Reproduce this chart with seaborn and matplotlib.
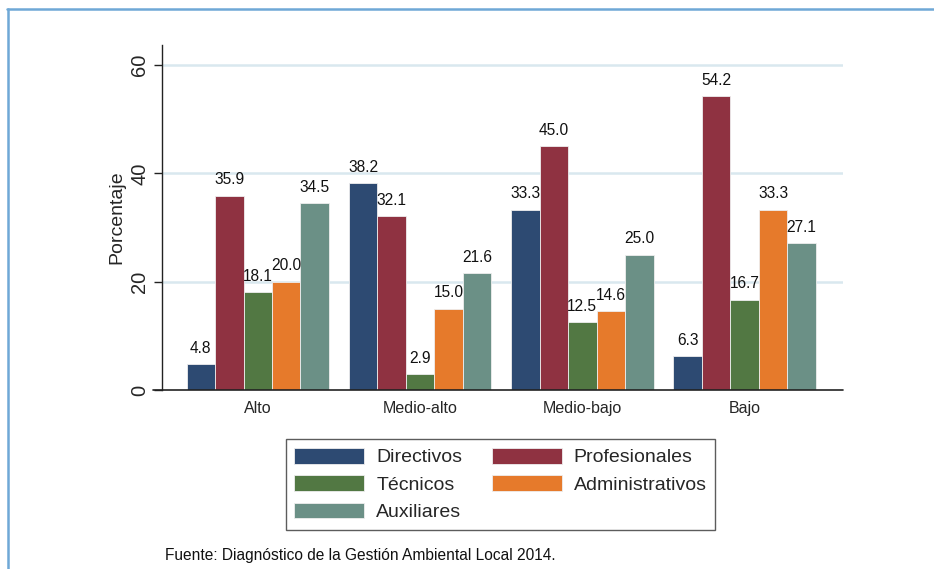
import matplotlib
matplotlib.use("Agg")
import matplotlib.pyplot as plt
from matplotlib.lines import Line2D
import seaborn as sns
import pandas as pd

# Data: percentage of staff by position and municipal level
niveles = ["Alto", "Medio-alto", "Medio-bajo", "Bajo"]
cargos = ["Directivos", "Profesionales", "Técnicos", "Administrativos", "Auxiliares"]
directivos = [4.8, 38.2, 33.3, 6.3]
profesionales = [35.9, 32.1, 45.0, 54.2]
tecnicos = [18.1, 2.9, 12.5, 16.7]
administrativos = [20.0, 15.0, 14.6, 33.3]
auxiliares = [34.5, 21.6, 25.0, 27.1]
yticks = [0, 20, 40, 60]
fuente = "Fuente: Diagnóstico de la Gestión Ambiental Local 2014."

colores = ["#2d4a72", "#8f3241", "#527843", "#e67a2b", "#6b9086"]

series = [directivos, profesionales, tecnicos, administrativos, auxiliares]
df = pd.DataFrame({
    "nivel": [n for s in series for n in niveles],
    "cargo": [c for c, s in zip(cargos, series) for _ in niveles],
    "pct": [v for s in series for v in s],
})

sns.set_theme(style="white")
plt.rcParams["font.family"] = ["Liberation Sans", "DejaVu Sans"]

fig = plt.figure(figsize=(9.34, 5.69), dpi=100)
fig.patch.set_facecolor("white")
ax = fig.add_axes([162 / 934, 1 - 390 / 569, (843 - 162) / 934, (390 - 45) / 569])

sns.barplot(data=df, x="nivel", y="pct", hue="cargo", order=niveles,
            hue_order=cargos, palette=colores, saturation=1, width=0.877,
            edgecolor="#eeeeee", linewidth=0.6, ax=ax, errorbar=None, zorder=3)

for cont in ax.containers:
    ax.bar_label(cont, fmt="%.1f", padding=6, fontsize=11.2, color="#111111")

ax.set_ylim(0, 63.7)
ax.set_xlim(-0.59, 3.606)
ax.set_yticks(yticks)
ax.set_yticklabels([str(t) for t in yticks], rotation=90, va="center", fontsize=14.5)
ax.tick_params(axis="y", left=True, length=6, width=1, color="#222222", pad=3)
ax.tick_params(axis="x", bottom=False, length=0, pad=8, labelsize=11.5)
ax.set_xlabel("")
ax.set_ylabel("Porcentaje", fontsize=14, labelpad=4)

for t in yticks[1:]:
    ax.axhline(t, color="#d9e8ef", lw=1.8, zorder=1)

for s in ["top", "right"]:
    ax.spines[s].set_visible(False)
ax.spines["left"].set_color("#222222")
ax.spines["left"].set_linewidth(1)
ax.spines["bottom"].set_visible(False)
ax.add_line(Line2D([-0.013, 1], [0, 0], transform=ax.transAxes, clip_on=False,
                   color="#222222", lw=1.2, zorder=4))

# Legend in row-major order across two columns
handles, labels = ax.get_legend_handles_labels()
ax.legend_.remove()
orden = [0, 2, 4, 1, 3]
leg = fig.legend([handles[i] for i in orden], [labels[i] for i in orden],
                 loc="center", bbox_to_anchor=(500.5 / 934, 1 - 484.5 / 569),
                 ncol=2, fontsize=14, frameon=True, fancybox=False,
                 edgecolor="#333333", handlelength=3.6, handleheight=0.88,
                 handletextpad=0.62, columnspacing=1.5, labelspacing=0.45,
                 borderpad=0.45)
leg.get_frame().set_linewidth(1)

fig.text(165 / 934, 1 - 560 / 569, fuente, fontsize=11.2, color="#111111",
         va="baseline", ha="left")

# Blue frame around the figure panel
fig.add_artist(Line2D([7 / 934, 1], [1 - 9 / 569, 1 - 9 / 569],
                      transform=fig.transFigure, color="#6fa8d6", lw=1.8))
fig.add_artist(Line2D([7.5 / 934, 7.5 / 934], [0, 1 - 9 / 569],
                      transform=fig.transFigure, color="#6fa8d6", lw=1.8))

fig.savefig("out.png", dpi=100, facecolor="white")
